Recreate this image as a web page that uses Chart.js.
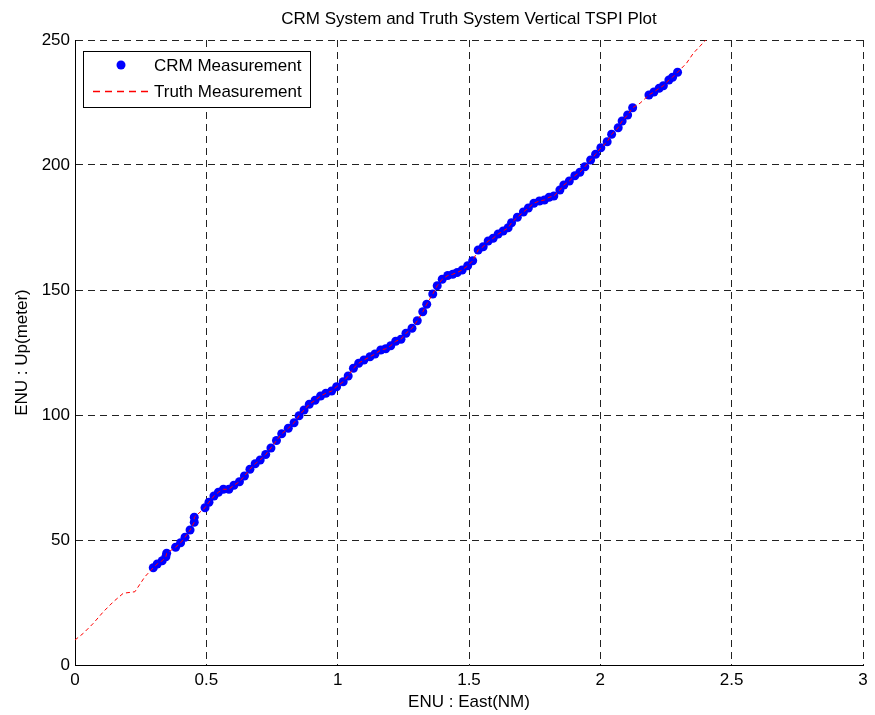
<!DOCTYPE html>
<html>
<head>
<meta charset="utf-8">
<title>CRM System and Truth System Vertical TSPI Plot</title>
<script src="https://cdn.jsdelivr.net/npm/chart.js@4"></script>
<style>
  html, body { margin: 0; padding: 0; background: #fff; }
  #tspiChart { display: block; }
</style>
</head>
<body>
<canvas id="tspiChart" width="875" height="715"></canvas>
<script>
const xTicks = [0, 0.5, 1, 1.5, 2, 2.5, 3];
const yTicks = [0, 50, 100, 150, 200, 250];

// CRM measurement dots
const crmEast = [
  0.298, 0.313, 0.332, 0.346, 0.349, 0.383, 0.402, 0.419, 0.438, 0.454,
  0.454, 0.495, 0.510, 0.529, 0.546, 0.565, 0.586, 0.605, 0.626, 0.645,
  0.666, 0.686, 0.705, 0.726, 0.746, 0.767, 0.787, 0.812, 0.834, 0.853,
  0.872, 0.892, 0.914, 0.935, 0.955, 0.977, 0.996, 1.021, 1.040, 1.060,
  1.080, 1.100, 1.123, 1.142, 1.164, 1.183, 1.202, 1.221, 1.241, 1.260,
  1.283, 1.303, 1.324, 1.339, 1.362, 1.379, 1.398, 1.419, 1.438, 1.455,
  1.474, 1.495, 1.514, 1.535, 1.554, 1.573, 1.592, 1.611, 1.630, 1.649,
  1.662, 1.684, 1.707, 1.726, 1.747, 1.768, 1.787, 1.805, 1.823, 1.846,
  1.861, 1.882, 1.903, 1.922, 1.941, 1.963, 1.982, 2.002, 2.026, 2.043,
  2.068, 2.083, 2.104, 2.123, 2.185, 2.204, 2.224, 2.240, 2.261, 2.275,
  2.294
];
const crmUp = [
  38.9, 40.4, 41.7, 43.3, 44.7, 47.1, 48.9, 51.1, 54.0, 57.1,
  59.1, 62.9, 65.1, 67.6, 69.1, 70.3, 70.3, 71.9, 73.3, 75.6,
  78.3, 80.5, 82.0, 84.2, 86.8, 89.8, 92.5, 94.7, 96.9, 99.7,
  102.0, 104.3, 105.9, 107.6, 108.7, 109.6, 111.3, 113.3, 115.6, 118.7,
  120.7, 122.0, 123.3, 124.4, 126.0, 126.5, 127.7, 129.5, 130.3, 132.7,
  134.7, 137.7, 141.3, 144.3, 148.4, 151.7, 154.3, 155.8, 156.3, 157.0,
  158.0, 159.7, 161.7, 166.0, 167.3, 169.6, 170.7, 172.4, 173.6, 174.9,
  176.9, 179.1, 181.2, 182.8, 184.7, 185.6, 186.0, 187.1, 187.6, 190.0,
  192.0, 193.6, 195.7, 197.1, 199.3, 202.0, 204.3, 206.9, 209.3, 212.3,
  214.9, 217.6, 220.0, 222.9, 228.0, 229.2, 230.7, 231.7, 234.0, 235.1,
  237.1
];

// truth track where it runs past the dots
const truthHeadEast = [0, 0.032, 0.070, 0.108, 0.146, 0.184, 0.228, 0.266];
const truthHeadUp = [10.0, 12.7, 16.7, 21.3, 25.3, 28.7, 29.3, 35.3];
const truthGapEast = [2.151];
const truthGapUp = [224.7];
const truthTailEast = [2.328, 2.354, 2.398, 2.420];
const truthTailUp = [240.7, 244.7, 249.6, 252.0];

function toPoints(xs, ys) {
  return xs.map((x, i) => ({ x: x, y: ys[i] }));
}

const crmPoints = toPoints(crmEast, crmUp);
const truthPoints = toPoints(truthHeadEast, truthHeadUp)
  .concat(crmPoints, toPoints(truthGapEast, truthGapUp), toPoints(truthTailEast, truthTailUp))
  .sort((a, b) => a.x - b.x);

const FONT = "'Liberation Sans', Arial, sans-serif";
const CRM_COLOR = "#0000ff";
const TRUTH_COLOR = "#ff0000";

// legend box drawn inside the plot, matlab style
const insideLegend = {
  id: "insideLegend",
  afterDraw(chart) {
    const ctx = chart.ctx;
    const sets = chart.data.datasets;
    const x0 = 83, y0 = 51, w = 227, h = 56;
    ctx.save();
    ctx.fillStyle = "#fff";
    ctx.fillRect(x0, y0, w, h);
    ctx.strokeStyle = "#000";
    ctx.lineWidth = 1;
    ctx.setLineDash([]);
    ctx.strokeRect(x0 + 0.5, y0 + 0.5, w, h);

    ctx.font = "17px " + FONT;
    ctx.textBaseline = "middle";

    // CRM row
    ctx.beginPath();
    ctx.fillStyle = CRM_COLOR;
    ctx.arc(121, 65, 4.5, 0, Math.PI * 2);
    ctx.fill();
    ctx.fillStyle = "#000";
    ctx.fillText(sets[0].label, 154, 66);

    // truth row
    ctx.beginPath();
    ctx.strokeStyle = TRUTH_COLOR;
    ctx.lineWidth = 1.3;
    ctx.setLineDash([7, 5]);
    ctx.moveTo(93, 91.5);
    ctx.lineTo(150, 91.5);
    ctx.stroke();
    ctx.setLineDash([]);
    ctx.fillStyle = "#000";
    ctx.fillText(sets[1].label, 154, 92);
    ctx.restore();
  }
};

const ctx = document.getElementById("tspiChart").getContext("2d");

new Chart(ctx, {
  type: "scatter",
  data: {
    datasets: [
      {
        label: "CRM Measurement",
        data: crmPoints,
        pointBackgroundColor: CRM_COLOR,
        backgroundColor: CRM_COLOR,
        pointBorderWidth: 0,
        pointRadius: 4.5,
        showLine: false,
        order: 1
      },
      {
        label: "Truth Measurement",
        data: truthPoints,
        borderColor: TRUTH_COLOR,
        borderWidth: 1,
        borderDash: [4, 3],
        pointRadius: 0,
        showLine: true,
        fill: false,
        tension: 0,
        order: 0
      }
    ]
  },
  options: {
    responsive: false,
    animation: false,
    layout: { padding: { left: 0, right: 12, top: 0, bottom: 0 } },
    plugins: {
      legend: { display: false },
      tooltip: { enabled: false },
      title: {
        display: true,
        fullSize: false,
        text: "CRM System and Truth System Vertical TSPI Plot",
        color: "#000",
        font: { family: FONT, size: 17, weight: "normal" },
        padding: { top: 9, bottom: 10.6 }
      }
    },
    scales: {
      x: {
        type: "linear",
        min: 0,
        max: 3,
        afterBuildTicks: (scale) => { scale.ticks = xTicks.map(v => ({ value: v })); },
        afterFit: (scale) => { scale.height = 50; },
        ticks: {
          color: "#000",
          font: { family: FONT, size: 17 },
          padding: 5,
          maxRotation: 0,
          callback: (v) => String(v)
        },
        grid: {
          color: "#222",
          lineWidth: 1,
          drawTicks: false
        },
        border: { display: true, color: "#000", width: 1, dash: [7, 5] },
        title: {
          display: true,
          text: "ENU : East(NM)",
          color: "#000",
          font: { family: FONT, size: 17 },
          padding: { top: 0, bottom: 2 }
        }
      },
      y: {
        type: "linear",
        min: 0,
        max: 250,
        afterBuildTicks: (scale) => { scale.ticks = yTicks.map(v => ({ value: v })); },
        afterFit: (scale) => { scale.width = 75; },
        ticks: {
          color: "#000",
          font: { family: FONT, size: 17 },
          padding: 5,
          callback: (v) => String(v)
        },
        grid: {
          color: "#222",
          lineWidth: 1,
          drawTicks: false
        },
        border: { display: true, color: "#000", width: 1, dash: [7, 5] },
        title: {
          display: true,
          text: "ENU : Up(meter)",
          color: "#000",
          font: { family: FONT, size: 17 },
          padding: { top: 12, bottom: 0 }
        }
      }
    }
  },
  plugins: [insideLegend]
});
</script>
</body>
</html>
